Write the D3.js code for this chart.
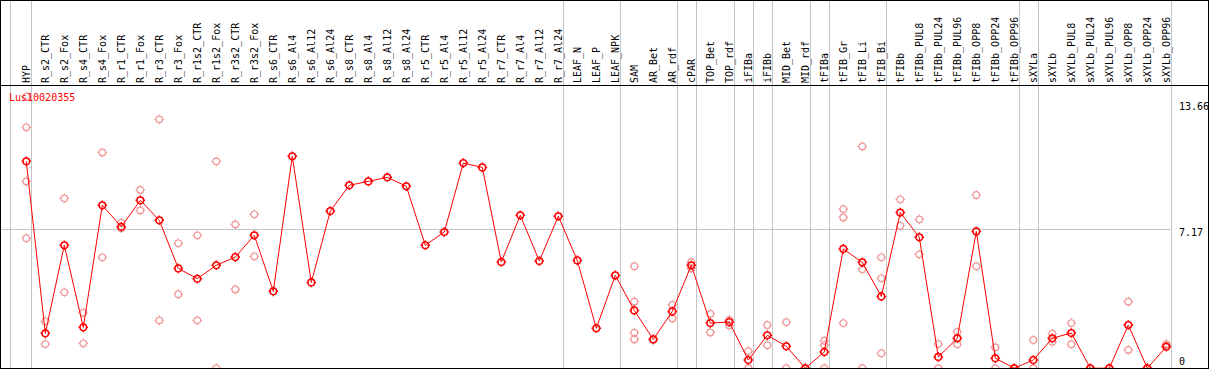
<!DOCTYPE html>
<html>
<head>
<meta charset="utf-8">
<script src="https://cdn.jsdelivr.net/npm/d3@7"></script>
<style>
	body { margin: 0; background: #fff; }
	svg { display: block; }
	text { font-family: "DejaVu Sans Mono", monospace; font-size: 10px; }
</style>
</head>
<body>
<div id="chart"></div>
<script>
const gene = "Lus10020355";

const categories = [
	"HYP",
	"R_s2_CTR", "R_s2_Fox", "R_s4_CTR", "R_s4_Fox", "R_r1_CTR", "R_r1_Fox", "R_r3_CTR", "R_r3_Fox",
	"R_r1s2_CTR", "R_r1s2_Fox", "R_r3s2_CTR", "R_r3s2_Fox",
	"R_s6_CTR", "R_s6_Al4", "R_s6_Al12", "R_s6_Al24", "R_s8_CTR", "R_s8_Al4", "R_s8_Al12", "R_s8_Al24",
	"R_r5_CTR", "R_r5_Al4", "R_r5_Al12", "R_r5_Al24", "R_r7_CTR", "R_r7_Al4", "R_r7_Al12", "R_r7_Al24",
	"LEAF_N", "LEAF_P", "LEAF_NPK",
	"SAM", "AR_Bet", "AR_rdf",
	"cPAR",
	"TOP_Bet", "TOP_rdf",
	"iFIBa",
	"iFIBb",
	"MID_Bet", "MID_rdf",
	"tFIBa",
	"tFIB_Gr", "tFIB_Li", "tFIB_Bi",
	"tFIBb", "tFIBb_PUL8", "tFIBb_PUL24", "tFIBb_PUL96", "tFIBb_OPP8", "tFIBb_OPP24", "tFIBb_OPP96",
	"sXYLa",
	"sXYLb", "sXYLb_PUL8", "sXYLb_PUL24", "sXYLb_PUL96", "sXYLb_OPP8", "sXYLb_OPP24", "sXYLb_OPP96"
];

// number of samples in each tissue group (separator lines drawn after each group)
const groupSizes = [1, 28, 3, 3, 1, 2, 1, 1, 2, 1, 3, 7, 1, 7];

const means = [
	10.63,
	1.79, 6.32, 2.10, 8.37, 7.27, 8.63, 7.60, 5.13,
	4.60, 5.29, 5.71, 6.83,
	3.95, 10.89, 4.41, 8.08, 9.40, 9.60, 9.81, 9.35,
	6.32, 7.00, 10.54, 10.32, 5.46, 7.86, 5.51, 7.81,
	5.54, 2.05, 4.77,
	2.97, 1.48, 2.92,
	5.29,
	2.32, 2.37,
	0.42,
	1.69,
	1.13, 0,
	0.83,
	6.13, 5.44, 3.69,
	8.00, 6.73, 0.58, 1.54, 7.03, 0.51, 0,
	0.42,
	1.54, 1.81, 0, 0, 2.22, 0, 1.10
];

const replicates = [
	[13.95, 12.38, 9.60, 6.68],
	[2.41, 1.24], [8.73, 3.90], [2.85, 1.28], [11.09, 5.70], [7.48, 7.19], [9.16, 8.11], [12.79, 2.46], [6.42, 3.80],
	[6.83, 2.46], [10.63, 0], [7.39, 4.05], [7.91, 5.75],
	[], [], [], [], [], [], [], [],
	[], [], [], [], [], [], [], [],
	[], [], [],
	[5.24, 3.42, 1.83, 1.48], [1.48], [3.25, 2.56],
	[5.46, 5.13],
	[2.79, 1.84], [2.48, 2.19],
	[0.88, 0],
	[2.22, 1.18],
	[2.37, 0], [0],
	[1.41, 1.19, 0],
	[8.18, 7.75, 2.32], [11.40, 5.08, 0], [5.70, 4.62, 0.77],
	[8.68, 7.32], [7.65, 5.85], [1.24, 0], [1.86, 1.23], [8.90, 5.24], [1.07, 0], [0],
	[1.45, 0],
	[1.77, 1.36], [2.32, 1.23], [0], [0], [3.42, 0.94], [0], [1.24, 1.17]
];

const yTicks = [0, 7.17, 13.66];

const width = 1209;
const height = 370;
const headerBottom = 85.5;
const plotBottom = 368.2;

const x = d3.scalePoint()
	.domain(categories)
	.range([26.3, 1166.3]);

const y = d3.scaleLinear()
	.domain([0, 13.66])
	.range([plotBottom, 102.4]);

const svg = d3.select("#chart")
	.append("svg")
	.attr("width", width)
	.attr("height", height)
	.attr("viewBox", [0, 0, width, height]);

svg.append("rect")
	.attr("width", width)
	.attr("height", height)
	.attr("fill", "#fff");

svg.append("clipPath")
	.attr("id", "plotclip")
	.append("rect")
	.attr("x", 1)
	.attr("y", headerBottom + 0.5)
	.attr("width", width - 2)
	.attr("height", 368 - headerBottom - 0.5);

// group separators
let acc = 0;
const breaks = [x(categories[0]) - 16];
groupSizes.forEach(n => {
	acc += n;
	breaks.push(x(categories[acc - 1]) + 4.3);
});

svg.append("g")
	.attr("stroke", "#c4c4c4")
	.selectAll("line")
	.data(breaks)
	.join("line")
	.attr("x1", d => Math.round(d) + 0.5)
	.attr("x2", d => Math.round(d) + 0.5)
	.attr("y1", 0)
	.attr("y2", 369);

// mid gridline
svg.append("line")
	.attr("stroke", "#c4c4c4")
	.attr("x1", 1)
	.attr("x2", breaks[breaks.length - 1])
	.attr("y1", Math.round(y(yTicks[1])) + 0.5)
	.attr("y2", Math.round(y(yTicks[1])) + 0.5);

// sample labels
svg.append("g")
	.selectAll("text")
	.data(categories)
	.join("text")
	.attr("transform", d => `translate(${x(d) + 4},83) rotate(-90)`)
	.attr("text-anchor", "start")
	.attr("fill", "#000")
	.text(d => d);

// right axis labels
svg.append("g")
	.selectAll("text")
	.data(yTicks)
	.join("text")
	.attr("x", 1179)
	.attr("y", d => Math.min(y(d) + 7.3, 365.3))
	.attr("fill", "#000")
	.text(d => d);

// frame
svg.append("rect")
	.attr("x", 0.5)
	.attr("y", 0.5)
	.attr("width", width - 1)
	.attr("height", 368)
	.attr("fill", "none")
	.attr("stroke", "#000");

svg.append("line")
	.attr("stroke", "#000")
	.attr("x1", 0)
	.attr("x2", width)
	.attr("y1", headerBottom)
	.attr("y2", headerBottom);

const plot = svg.append("g")
	.attr("clip-path", "url(#plotclip)");

const marker = r => `M${-r},0A${r},${r},0,1,1,${r},0A${r},${r},0,1,1,${-r},0Z`
	+ `M0,${-r - 1.5}V${-r}M0,${r}V${r + 1.5}M${-r - 1.5},0H${-r}M${r},0H${r + 1.5}`;

const reps = categories.flatMap((c, i) => replicates[i].map(v => ({ c, v })));

plot.append("g")
	.attr("fill", "none")
	.attr("stroke", "#f09a9a")
	.attr("stroke-width", 1.2)
	.selectAll("path")
	.data(reps)
	.join("path")
	.attr("d", marker(3.3))
	.attr("transform", d => `translate(${x(d.c)},${y(d.v)})`);

const line = d3.line()
	.x((d, i) => x(categories[i]))
	.y(d => y(d));

plot.append("path")
	.datum(means)
	.attr("fill", "none")
	.attr("stroke", "#ff0000")
	.attr("stroke-width", 1)
	.attr("d", line);

plot.append("g")
	.attr("fill", "none")
	.attr("stroke", "#ff0000")
	.attr("stroke-width", 1.5)
	.selectAll("path")
	.data(means)
	.join("path")
	.attr("d", marker(3.3))
	.attr("transform", (d, i) => `translate(${x(categories[i])},${y(d)})`);

svg.append("text")
	.attr("x", 9)
	.attr("y", 100.5)
	.attr("fill", "#ff0000")
	.text(gene);
</script>
</body>
</html>
